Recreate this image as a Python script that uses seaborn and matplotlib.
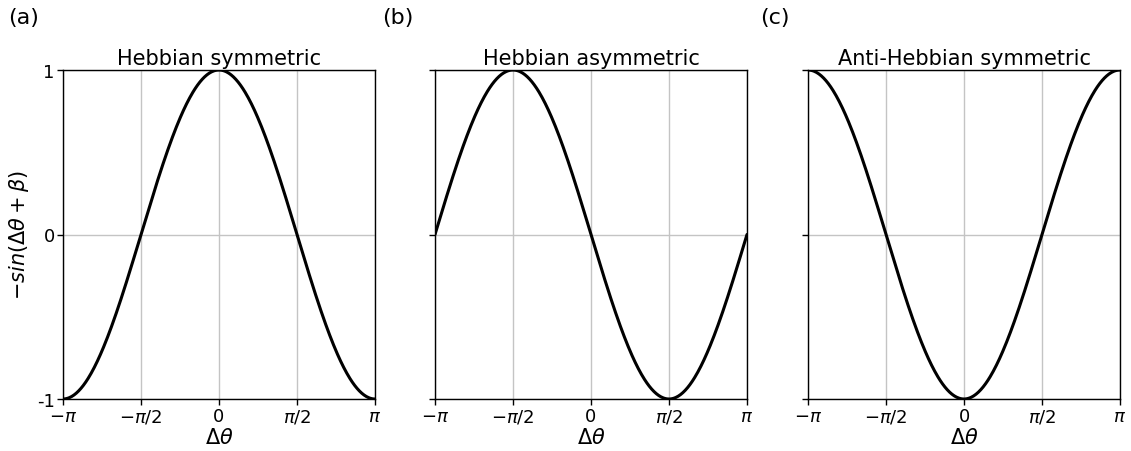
import numpy as np
import matplotlib
matplotlib.use("Agg")
import matplotlib.pyplot as plt
import seaborn as sns
import pandas as pd

titles = ["Hebbian symmetric", "Hebbian asymmetric", "Anti-Hebbian symmetric"]
panel_labels = ["(a)", "(b)", "(c)"]
betas = [-np.pi / 2, 0.0, np.pi / 2]
xtick_vals = [-np.pi, -np.pi / 2, 0, np.pi / 2, np.pi]
xtick_labels = [r"$-\pi$", r"$-\pi/2$", "0", r"$\pi/2$", r"$\pi$"]
ytick_vals = [-1, 0, 1]
ytick_labels = ["-1", "0", "1"]

sns.set_style("ticks", {"axes.grid": True, "grid.color": "#c4c4c4",
                        "axes.edgecolor": "black", "text.color": "black",
                        "axes.labelcolor": "black", "xtick.color": "black",
                        "ytick.color": "black"})
plt.rcParams["font.family"] = ["DejaVu Sans"]

fig = plt.figure(figsize=(11.31, 4.52), dpi=100)
lefts = [63, 435, 808]
label_x = [8, 382, 760]
dtheta = np.linspace(-np.pi, np.pi, 400)
for i in range(3):
    ax = fig.add_axes([lefts[i] / 1131, 1 - 400 / 452, 312 / 1131, 329 / 452])
    df = pd.DataFrame({"x": dtheta, "y": -np.sin(dtheta + betas[i])})
    sns.lineplot(data=df, x="x", y="y", ax=ax, color="black", linewidth=2.2)
    ax.set_xlim(-np.pi, np.pi)
    ax.set_ylim(-1, 1)
    ax.set_xticks(xtick_vals)
    ax.set_xticklabels(xtick_labels, fontsize=13)
    ax.set_yticks(ytick_vals)
    if i == 0:
        ax.set_yticklabels(ytick_labels, fontsize=13)
        ax.set_ylabel(r"$-sin(\Delta\theta + \beta)$", fontsize=15)
    else:
        ax.set_yticklabels([])
        ax.set_ylabel("")
    ax.set_xlabel(r"$\Delta\theta$", fontsize=15, labelpad=1)
    ax.set_title(titles[i], fontsize=15, pad=4, color="black")
    ax.grid(True, color="#c4c4c4", linewidth=1)
    for s in ax.spines.values():
        s.set_visible(True)
        s.set_color("black")
        s.set_linewidth(1)
    ax.tick_params(length=4, width=1, color="black", labelcolor="black", pad=2)
    fig.text(label_x[i] / 1131, 1 - 18 / 452, panel_labels[i],
             fontsize=16, va="center", ha="left", color="black")

fig.savefig("out.png", dpi=100)
